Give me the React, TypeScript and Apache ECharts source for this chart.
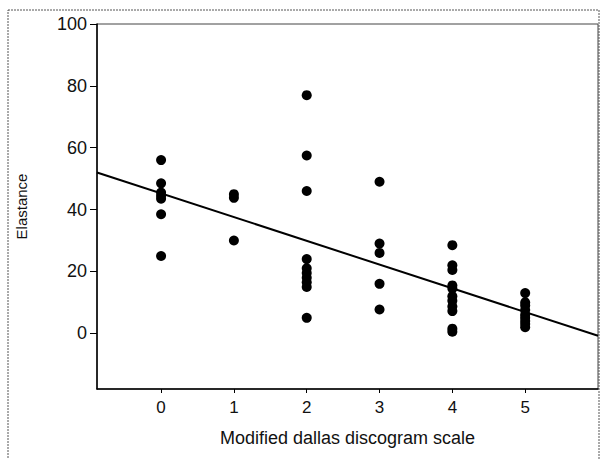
import React, { useEffect, useRef } from "react";
import * as echarts from "echarts";

const scoreTicks = [0, 1, 2, 3, 4, 5];
const elastanceTicks = [0, 20, 40, 60, 80, 100];
const score0 = [56, 48.5, 45.5, 44.5, 43.5, 38.5, 25];
const score1 = [45, 43.8, 30];
const score2 = [77, 57.5, 46, 24, 21, 19.5, 18, 16.5, 15, 5];
const score3 = [49, 29, 26, 16, 7.7];
const score4 = [28.5, 22, 20.5, 15.5, 14.5, 12, 10.5, 8.7, 7.2, 1.5, 0.5];
const score5 = [13, 10, 9, 7.5, 6, 5, 4, 3, 2];
const regressionX = [-0.88, 6];
const regressionY = [52, -0.8];

const groups = [score0, score1, score2, score3, score4, score5];
const FONT = "Liberation Sans";

export default function App() {
  const ref = useRef<HTMLDivElement>(null);
  useEffect(() => {
    if (!ref.current) return;
    const chart = echarts.init(ref.current, null, { renderer: "svg" });
    const points: number[][] = [];
    groups.forEach((g, i) => g.forEach((v) => points.push([scoreTicks[i], v])));
    chart.setOption({
      animation: false,
      backgroundColor: "#fff",
      graphic: [
        {
          type: "rect",
          shape: { x: 8, y: 10, width: 591, height: 470 },
          style: { fill: "none", stroke: "#555", lineWidth: 1, lineDash: [2, 1] },
          silent: true,
        },
      ],
      grid: { left: 97, right: 2, top: 24, bottom: 70, show: true, borderColor: "#444", borderWidth: 1 },
      xAxis: {
        type: "value",
        min: -0.88,
        max: 6,
        name: "Modified dallas discogram scale",
        nameLocation: "middle",
        nameGap: 40,
        nameTextStyle: { fontFamily: FONT, fontSize: 18, color: "#111" },
        axisLine: { show: true, onZero: false, lineStyle: { color: "#000", width: 1.5 } },
        axisTick: { show: true, length: 4, customValues: scoreTicks, lineStyle: { color: "#000" } },
        axisLabel: { customValues: scoreTicks, fontFamily: FONT, fontSize: 17, color: "#111", margin: 10 },
        splitLine: { show: false },
      },
      yAxis: {
        type: "value",
        min: -18,
        max: 100,
        name: "Elastance",
        nameLocation: "middle",
        nameGap: 68,
        nameRotate: 90,
        nameTextStyle: { fontFamily: FONT, fontSize: 15, color: "#111" },
        axisLine: { show: true, onZero: false, lineStyle: { color: "#000", width: 1.5 } },
        axisTick: { show: true, length: 7, customValues: elastanceTicks, lineStyle: { color: "#000" } },
        axisLabel: { customValues: elastanceTicks, fontFamily: FONT, fontSize: 18, color: "#111", margin: 10 },
        splitLine: { show: false },
      },
      series: [
        {
          type: "line",
          data: regressionX.map((x, i) => [x, regressionY[i]]),
          symbol: "none",
          lineStyle: { color: "#000", width: 2 },
          silent: true,
        },
        {
          type: "scatter",
          data: points,
          symbolSize: 10,
          itemStyle: { color: "#000", opacity: 1 },
        },
      ],
    });
    return () => chart.dispose();
  }, []);
  return (
    <div
      ref={ref}
      style={{ position: "fixed", left: 0, top: 0, width: 600, height: 459 }}
    />
  );
}
